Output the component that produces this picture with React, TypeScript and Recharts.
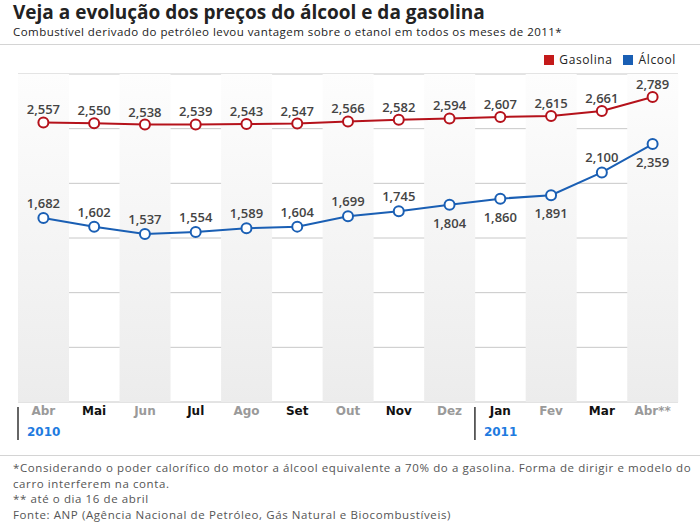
import { Bar, CartesianGrid, ComposedChart, LabelList, Line, XAxis, YAxis } from 'recharts';

const months = ['Abr', 'Mai', 'Jun', 'Jul', 'Ago', 'Set', 'Out', 'Nov', 'Dez', 'Jan', 'Fev', 'Mar', 'Abr**'];
const years = ['2010', '', '', '', '', '', '', '', '', '2011', '', '', ''];
const gasolina = [2.557, 2.55, 2.538, 2.539, 2.543, 2.547, 2.566, 2.582, 2.594, 2.607, 2.615, 2.661, 2.789];
const alcool = [1.682, 1.602, 1.537, 1.554, 1.589, 1.604, 1.699, 1.745, 1.804, 1.86, 1.891, 2.1, 2.359];
// labels drawn under the blue point instead of above
const alcoolBelow = [false, false, false, false, false, false, false, false, true, true, true, false, true];
const shaded = [true, false, true, false, true, false, true, false, true, false, true, false, true];
const yTicks = [0, 0.5, 1, 1.5, 2, 2.5, 3];

const RED = '#b5121b';
const BLUE = '#1a5fb4';
const FONT = '"Open Sans", sans-serif';
const TICK_FONT = "Tahoma, 'DejaVu Sans', sans-serif";

const data = months.map((m, i) => ({
  month: m,
  year: years[i],
  gasolina: gasolina[i],
  alcool: alcool[i],
  band: shaded[i] ? 3 : 0,
}));

const fmt = (v: number) => v.toFixed(3).replace('.', ',');

function MonthTick(props: any) {
  const { x, y, payload, index } = props;
  const half = 660 / 13 / 2;
  const year = years[index];
  return (
    <g>
      <text
        x={x}
        y={y + 5}
        textAnchor="middle"
        fontFamily={TICK_FONT}
        fontSize={12}
        fontWeight="bold"
        fill={index % 2 === 0 ? '#9a9a9a' : '#111'}
      >
        {payload.value}
      </text>
      {year && (
        <>
          <line x1={x - half} x2={x - half} y1={y - 3} y2={y + 30} stroke="#333" strokeWidth={1.5} />
          <text x={x - half + 9} y={y + 26} fontFamily={TICK_FONT} fontSize={12} fontWeight="bold" fill="#1e7be0">
            {year}
          </text>
        </>
      )}
    </g>
  );
}

function gasLabel(props: any) {
  const { x, y, value } = props;
  return (
    <text x={x} y={y - 8} textAnchor="middle" fontFamily={FONT} fontSize={13} fontWeight={600} fill="#444">
      {fmt(value)}
    </text>
  );
}

function alcLabel(props: any) {
  const { x, y, value, index } = props;
  const below = alcoolBelow[index];
  return (
    <text
      x={x}
      y={below ? y + 23 : y - 10}
      textAnchor="middle"
      fontFamily={FONT}
      fontSize={13}
      fontWeight={600}
      fill="#444"
    >
      {fmt(value)}
    </text>
  );
}

export default function App() {
  return (
    <div style={{ position: 'relative', width: 700, height: 532, background: '#fff', fontFamily: FONT }}>
      <style>{'body{margin:0}'}</style>
      <div
        style={{
          position: 'absolute',
          left: 13,
          top: 2,
          fontSize: 19,
          lineHeight: '20px',
          fontWeight: 700,
          color: '#222',
        }}
      >
        Veja a evolução dos preços do álcool e da gasolina
      </div>
      <div
        style={{
          position: 'absolute',
          left: 13,
          top: 26,
          fontSize: 11.5,
          lineHeight: '12px',
          letterSpacing: 0.45,
          color: '#222',
        }}
      >
        Combustível derivado do petróleo levou vantagem sobre o etanol em todos os meses de 2011*
      </div>
      <div style={{ position: 'absolute', left: 0, top: 44, width: 700, height: 1, background: '#d4d4d4' }} />
      <div
        style={{
          position: 'absolute',
          right: 24,
          top: 51,
          fontSize: 12,
          letterSpacing: 0.6,
          color: '#222',
          display: 'flex',
          alignItems: 'center',
        }}
      >
        <span style={{ width: 10, height: 10, background: '#c41a1a', display: 'inline-block', marginRight: 5 }} />
        Gasolina
        <span style={{ width: 10, height: 10, background: BLUE, display: 'inline-block', marginLeft: 10, marginRight: 6 }} />
        Álcool
      </div>
      <div style={{ position: 'absolute', left: 0, top: 0 }}>
        <ComposedChart
          width={700}
          height={532}
          data={data}
          margin={{ top: 74, right: 22, left: 18, bottom: 100 }}
          barCategoryGap={0}
        >
          <defs>
            <linearGradient id="bandFill" x1="0" y1="0" x2="0" y2="1">
              <stop offset="0%" stopColor="#fdfdfd" />
              <stop offset="100%" stopColor="#ececec" />
            </linearGradient>
          </defs>
          <YAxis hide domain={[0, 3]} ticks={yTicks} />
          <XAxis dataKey="month" axisLine={false} tickLine={false} interval={0} height={30} tick={<MonthTick />} />
          <Bar dataKey="band" fill="url(#bandFill)" isAnimationActive={false} />
          <CartesianGrid vertical={false} stroke="#c8c8c8" />
          <Line
            dataKey="gasolina"
            stroke={RED}
            strokeWidth={2}
            dot={{ r: 5, fill: '#fff', stroke: RED, strokeWidth: 2 }}
            activeDot={false}
            isAnimationActive={false}
          >
            <LabelList dataKey="gasolina" content={gasLabel} />
          </Line>
          <Line
            dataKey="alcool"
            stroke={BLUE}
            strokeWidth={2}
            dot={{ r: 5, fill: '#fff', stroke: BLUE, strokeWidth: 2 }}
            activeDot={false}
            isAnimationActive={false}
          >
            <LabelList dataKey="alcool" content={alcLabel} />
          </Line>
        </ComposedChart>
      </div>
      <div style={{ position: 'absolute', left: 0, top: 455, width: 700, height: 1, background: '#d4d4d4' }} />
      <div
        style={{
          position: 'absolute',
          left: 13,
          top: 460,
          width: 682,
          fontSize: 11.5,
          lineHeight: '15.5px',
          letterSpacing: 0.6,
          color: '#555',
        }}
      >
        *Considerando o poder calorífico do motor a álcool equivalente a 70% do a gasolina. Forma de dirigir e modelo do
        carro interferem na conta.
        <br />** até o dia 16 de abril
        <br />Fonte: ANP (Agência Nacional de Petróleo, Gás Natural e Biocombustíveis)
      </div>
    </div>
  );
}
